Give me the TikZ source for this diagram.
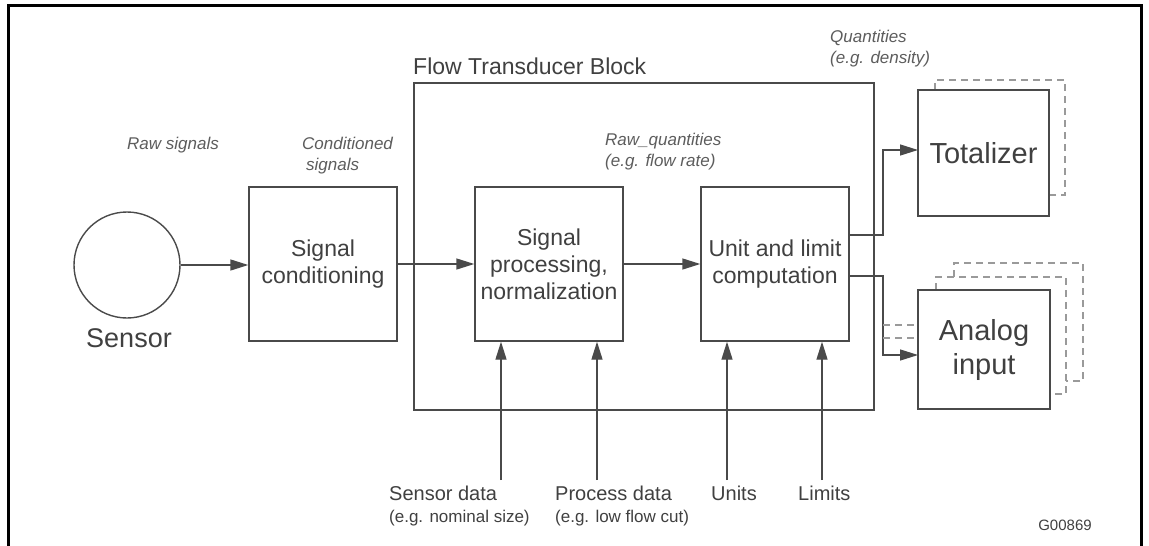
\documentclass[tikz,border=0pt]{standalone}
\usepackage{fontspec}
\setmainfont{Liberation Sans}
\usetikzlibrary{arrows.meta}
\definecolor{ink}{HTML}{404040}
\definecolor{wire}{HTML}{4A4A4A}
\definecolor{ghost}{HTML}{9A9A9A}
\tikzset{
  block/.style={draw=wire, line width=1.4pt, rectangle, inner sep=0pt, text=ink, align=center},
  boxfont/.style={font=\fontsize{23}{27}\selectfont},
  bigfont/.style={font=\fontsize{29}{34}\selectfont},
  note/.style={inner sep=0pt, text=ink!85, align=left, font=\fontsize{17}{21}\selectfont\itshape},
  feed/.style={inner sep=0pt, text=ink, align=left, font=\fontsize{20}{22}\selectfont},
  arr/.style={draw=wire, line width=1.4pt, -{Triangle[length=18pt,width=11pt]}},
  wireline/.style={draw=wire, line width=1.4pt},
  ghostline/.style={draw=ghost, line width=1.1pt, dash pattern=on 7pt off 5pt},
}
\begin{document}
\begin{tikzpicture}[x=1pt,y=-1pt]
\useasboundingbox (0,0) rectangle (1149,546);
\fill[white] (0,0) rectangle (1149,546);

% page frame (open at the bottom)
\draw[black, line width=3pt] (8,546) -- (8,5) -- (1141.5,5) -- (1141.5,546);

% sensor
\node[draw=wire, line width=1.4pt, circle, minimum size=106pt, inner sep=0pt] (sensor) at (127,265) {};
\node[anchor=base, inner sep=0pt, text=ink, font=\fontsize{27}{30}\selectfont] (sensorlbl) at (129,347) {Sensor};

% signal conditioning
\node[block, boxfont, minimum width=148pt, minimum height=154pt] (cond) at (323,264) {Signal\\conditioning};

% flow transducer block
\node[block, minimum width=460pt, minimum height=327pt] (ftb) at (644,246.5) {};
\node[anchor=base west, inner sep=0pt, text=ink, font=\fontsize{23}{26}\selectfont] (ftblbl) at (413,74) {Flow Transducer Block};

\node[block, boxfont, minimum width=148pt, minimum height=154pt] (sp) at (549,264) {Signal\\processing,\\normalization};
\node[block, boxfont, minimum width=148pt, minimum height=154pt] (ul) at (775,264) {Unit and limit\\computation};

% function blocks with stacked instances behind them
\draw[ghostline] (935,90) -- (935,80) -- (1065,80) -- (1065,195) -- (1049,195);
\node[block, bigfont, fill=white, minimum width=131pt, minimum height=126pt] (tot) at (983.5,153) {Totalizer};

\draw[ghostline] (954,277) -- (954,263) -- (1083,263) -- (1083,381) -- (1066,381);
\draw[ghostline] (936,290) -- (936,277) -- (1066,277) -- (1066,394) -- (1050,394);
\node[block, bigfont, fill=white, minimum width=132pt, minimum height=119pt] (ai) at (984,349.5) {Analog\\input};

% signal labels
\node[note, anchor=base west] (rawsig) at (127,149) {Raw signals};
\node[note, anchor=north west] (condsig) at (302,137) {Conditioned\\\hspace*{4pt}signals};
\node[note, anchor=north west] (rawq) at (605,133) {Raw\_quantities\\(e.g. flow rate)};
\node[note, anchor=north west] (qty) at (830,30) {Quantities\\(e.g. density)};

% main signal path
\draw[arr] (sensor.east) -- (sensor.east -| cond.west);
\draw[arr] (cond.east) -- (sp.west);
\draw[arr] (sp.east) -- (ul.west);

% outputs to the function blocks
\coordinate (outA) at (849,235);
\coordinate (outB) at (849,276);
\coordinate (totin) at (918,150);
\coordinate (aiin) at (918,355);
\draw[arr] (outA) -- (883,235) |- (totin);
\draw[arr] (outB) -- (883,276) |- (aiin);
\draw[ghostline] (883,325) -- (ai.west |- 0,325);
\draw[ghostline] (883,338) -- (ai.west |- 0,338);

% parameter inputs from below
\node[feed, anchor=north west] (sdata) at (389,486) {Sensor data\\{\fontsize{17}{20}\selectfont(e.g. nominal size)}};
\node[feed, anchor=north west] (pdata) at (555,486) {Process data\\{\fontsize{17}{20}\selectfont(e.g. low flow cut)}};
\node[feed, anchor=base west] (units) at (711,500) {Units};
\node[feed, anchor=base west] (limits) at (798,500) {Limits};

\coordinate (in1) at (501,480);
\coordinate (in2) at (597,480);
\coordinate (in3) at (727,480);
\coordinate (in4) at (822,480);
\draw[arr] (in1) -- (in1 |- sp.south);
\draw[arr] (in2) -- (in2 |- sp.south);
\draw[arr] (in3) -- (in3 |- ul.south);
\draw[arr] (in4) -- (in4 |- ul.south);

% drawing number
\node[anchor=base, inner sep=0pt, text=ink, font=\fontsize{15}{18}\selectfont] (gno) at (1065,530) {G00869};
\end{tikzpicture}
\end{document}
